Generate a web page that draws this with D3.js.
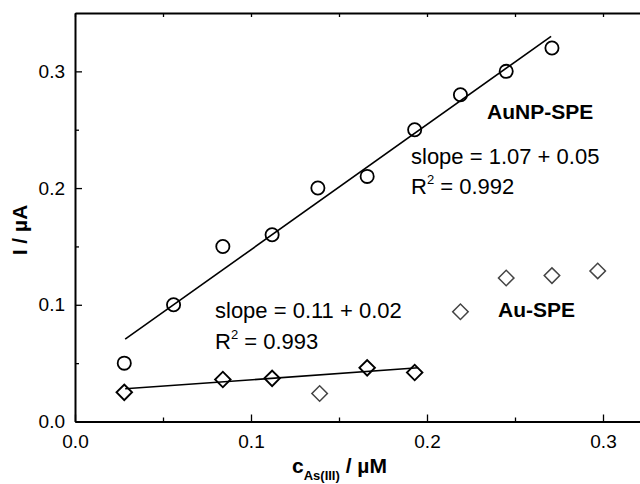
<!DOCTYPE html>
<html>
<head>
<meta charset="utf-8">
<script src="https://cdn.jsdelivr.net/npm/d3@7"></script>
<style>
  body { margin: 0; background: #fff; }
  svg { font-family: "Liberation Sans", Arial, sans-serif; }
</style>
</head>
<body>
<div id="chart"></div>
<script>
// AuNP-SPE (circles)
let aunpX = [0.028, 0.056, 0.084, 0.112, 0.138, 0.166, 0.193, 0.219, 0.245, 0.271];
let aunpY = [0.050, 0.100, 0.150, 0.160, 0.200, 0.210, 0.250, 0.280, 0.300, 0.320];
let aunpFit = [[0.0285, 0.0705], [0.2705, 0.330]];

// Au-SPE (diamonds), used = in the fit (black), others grey
let auX = [0.028, 0.084, 0.112, 0.139, 0.166, 0.193, 0.219, 0.245, 0.271, 0.297];
let auY = [0.025, 0.036, 0.037, 0.024, 0.046, 0.042, 0.094, 0.123, 0.125, 0.129];
let auUsed = [true, true, true, false, true, true, false, false, false, false];
let auFit = [[0.0285, 0.028], [0.195, 0.046]];

let xTicks = [0.0, 0.1, 0.2, 0.3];
let yTicks = [0.0, 0.1, 0.2, 0.3];
let minorTicks = [0.05, 0.15, 0.25];

// chart size
let svgWidth = 640;
let svgHeight = 484;
let margin = {top: 13, left: 75};
let plotBottom = 421.5;

let svg = d3.select("#chart")
  .append("svg")
  .attr("width", svgWidth)
  .attr("height", svgHeight);

let x = d3.scaleLinear().domain([0, 0.325]).range([margin.left, margin.left + 0.325 * 1760]);
let y = d3.scaleLinear().domain([0, 0.35]).range([plotBottom, margin.top]);

// axes: major ticks inward with labels, minor ticks inward
let xAxis = d3.axisBottom(x).tickValues(xTicks).tickFormat(d3.format(".1f"))
  .tickSizeInner(-7).tickSizeOuter(0).tickPadding(13);
let yAxis = d3.axisLeft(y).tickValues(yTicks).tickFormat(d3.format(".1f"))
  .tickSizeInner(-7).tickSizeOuter(0).tickPadding(10);

svg.append("g").attr("transform", `translate(0,${plotBottom})`).call(xAxis);
svg.append("g").attr("transform", `translate(${margin.left},0)`).call(yAxis);

svg.append("g").attr("transform", `translate(0,${plotBottom})`)
  .call(d3.axisBottom(x).tickValues(minorTicks).tickFormat("").tickSizeInner(-4).tickSizeOuter(0))
  .select(".domain").remove();
svg.append("g").attr("transform", `translate(${margin.left},0)`)
  .call(d3.axisLeft(y).tickValues(minorTicks).tickFormat("").tickSizeInner(-4).tickSizeOuter(0))
  .select(".domain").remove();

// top axis, ticks only
svg.append("g").attr("transform", `translate(0,${margin.top})`)
  .call(d3.axisTop(x).tickValues(xTicks.concat(minorTicks)).tickFormat("").tickSizeInner(-4).tickSizeOuter(0));

svg.selectAll(".domain").attr("stroke", "#000").attr("stroke-width", 2);
svg.selectAll(".tick line").attr("stroke", "#000").attr("stroke-width", 1.3);
svg.selectAll(".tick text").attr("font-size", 19).attr("fill", "#000")
  .attr("font-family", "Liberation Sans, Arial, sans-serif");

// fit lines
let line = d3.line().x(d => x(d[0])).y(d => y(d[1]));
svg.append("path").attr("d", line(aunpFit)).attr("fill", "none").attr("stroke", "#000").attr("stroke-width", 1.6);
svg.append("path").attr("d", line(auFit)).attr("fill", "none").attr("stroke", "#000").attr("stroke-width", 1.6);

// circles
svg.append("g").selectAll("circle")
  .data(aunpX.map((d, i) => [d, aunpY[i]]))
  .enter()
  .append("circle")
  .attr("cx", d => x(d[0]))
  .attr("cy", d => y(d[1]))
  .attr("r", 6.6)
  .attr("fill", "none")
  .attr("stroke", "#000")
  .attr("stroke-width", 1.8);

// diamonds
let diamond = d3.symbol().type(d3.symbolSquare).size(120);
svg.append("g").selectAll("path")
  .data(auX.map((d, i) => [d, auY[i], auUsed[i]]))
  .enter()
  .append("path")
  .attr("d", diamond)
  .attr("transform", d => `translate(${x(d[0])},${y(d[1])}) rotate(45)`)
  .attr("fill", "none")
  .attr("stroke", d => d[2] ? "#000" : "#444")
  .attr("stroke-width", d => d[2] ? 1.9 : 1.5);

// annotations
function addText(tx, ty, str, bold, size) {
  return svg.append("text").attr("x", tx).attr("y", ty)
    .attr("font-size", size).attr("font-weight", bold ? "bold" : "normal")
    .attr("fill", "#000").text(str);
}
addText(487, 119, "AuNP-SPE", true, 21);
addText(411, 164, "slope = 1.07 + 0.05", false, 22);
let r1 = addText(411, 194, "R", false, 22);
r1.append("tspan").attr("font-size", 13).attr("dy", -10).text("2");
r1.append("tspan").attr("dy", 10).text(" = 0.992");

addText(215, 318, "slope = 0.11 + 0.02", false, 22);
let r2 = addText(215, 349, "R", false, 22);
r2.append("tspan").attr("font-size", 13).attr("dy", -10).text("2");
r2.append("tspan").attr("dy", 10).text(" = 0.993");
addText(498, 317, "Au-SPE", true, 21);

// axis titles
let xt = svg.append("text").attr("x", 292).attr("y", 473)
  .attr("font-size", 21).attr("font-weight", "bold").attr("fill", "#000").text("c");
xt.append("tspan").attr("font-size", 13).attr("dy", 7).text("As(III)");
xt.append("tspan").attr("dy", -7).text(" / µM");

svg.append("text")
  .attr("transform", "translate(27,230) rotate(-90)")
  .attr("text-anchor", "middle")
  .attr("font-size", 21).attr("font-weight", "bold").attr("fill", "#000")
  .text("I / µA");
</script>
</body>
</html>
